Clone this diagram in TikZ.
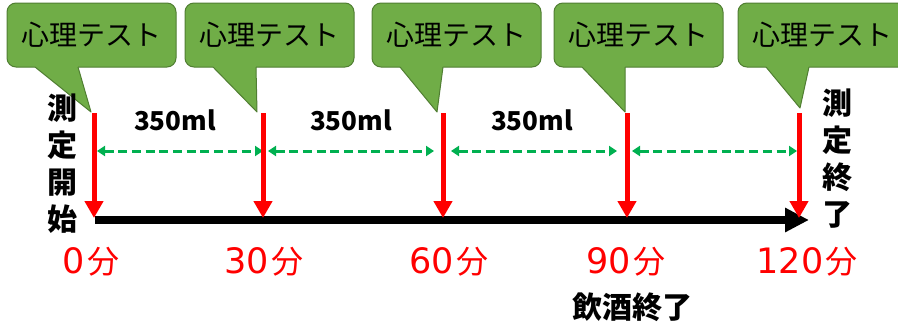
\documentclass[tikz,border=0pt]{standalone}
\usepackage{fontspec}
\usetikzlibrary{arrows.meta}
\newfontfamily\jp{Noto Sans CJK JP}
\newfontfamily\dv{DejaVu Sans}
\definecolor{cfill}{HTML}{70AD47}
\definecolor{cline}{HTML}{507E32}
\definecolor{gdash}{HTML}{00B050}
\newcommand{\tlab}[1]{{\dv\fontsize{35}{38}\selectfont #1}\hspace{2pt}{\jp\fontsize{32}{38}\selectfont 分}}
\tikzset{
 callout/.style={draw=cline, fill=cfill, line width=1pt, rounded corners=9pt, minimum width=169pt, minimum height=64pt, inner sep=0pt, font=\jp\fontsize{28}{30}\selectfont},
 tailedge/.style={draw=cline, line width=1pt, line join=round},
 redarrow/.style={draw=red, line width=5pt, -{Triangle[length=17pt,width=18pt]}},
 axisline/.style={draw=black, line width=8pt, -{Triangle[length=24pt,width=23pt]}},
 interval/.style={draw=gdash, line width=3pt, dash pattern=on 9pt off 4.7pt, {Triangle[length=8pt,width=10pt]}-{Triangle[length=8pt,width=10pt]}},
 vol/.style={font=\jp\bfseries\fontsize{26}{30}\selectfont, inner sep=0pt},
 timelbl/.style={text=red, inner sep=0pt},
 vlabel/.style={font=\jp\bfseries\fontsize{30}{37}\selectfont, align=center, inner sep=0pt},
 endlbl/.style={font=\jp\bfseries\fontsize{30}{34}\selectfont, inner sep=0pt}
}
\begin{document}
\begin{tikzpicture}[x=1pt,y=-1pt]
\useasboundingbox (0,0) rectangle (898,327);
\clip (0,0) rectangle (898,327);
% callouts
\foreach \i/\bx/\tx/\ty/\ax in {1/7/91/112/94, 2/185/257/112/263, 3/372/437/112/443, 4/554/625/112/627, 5/738/800/108/799} {
  \node[callout] (c\i) at (\bx+84.5,35) {心理テスト};
  \coordinate (tip\i) at (\tx,\ty);
  \fill[cfill] (\bx+28,64) -- (\bx+28,67) -- (tip\i) -- (\bx+71,67) -- (\bx+71,64) -- cycle;
  \draw[tailedge] (\bx+28,67) -- (tip\i) -- (\bx+71,67);
  \coordinate (top\i) at (\ax,113);
  \coordinate (bot\i) at (\ax,218);
}
% intervals
\coordinate (g1a) at (97,151);  \coordinate (g1b) at (263,151);
\coordinate (g2a) at (268,151); \coordinate (g2b) at (434,151);
\coordinate (g3a) at (451,151); \coordinate (g3b) at (617,151);
\coordinate (g4a) at (632,151); \coordinate (g4b) at (797,151);
\foreach \i in {1,...,4} { \draw[interval] (g\i a) -- (g\i b); }
% axis
\coordinate (axL) at (95,220);
\coordinate (axR) at (809,220);
\draw[axisline] (axL) -- (axR);
% red arrows
\foreach \i in {1,...,5} { \draw[redarrow] (top\i) -- (bot\i); }
% volumes
\node[vol] (v1) at (175,120) {350ml};
\node[vol] (v2) at (351,120) {350ml};
\node[vol] (v3) at (532,120) {350ml};
% times
\node[timelbl] (t0) at (91,262) {\tlab{0}};
\node[timelbl] (t30) at (264,262) {\tlab{30}};
\node[timelbl] (t60) at (449,262) {\tlab{60}};
\node[timelbl] (t90) at (626,262) {\tlab{90}};
\node[timelbl] (t120) at (807,262) {\tlab{120}};
% side labels
\node[vlabel] (start) at (62,164) {測\\定\\開\\始};
\node[vlabel] (stop) at (837,159) {測\\定\\終\\了};
\node[endlbl] (drink) at (632,307) {飲酒終了};
\end{tikzpicture}
\end{document}
